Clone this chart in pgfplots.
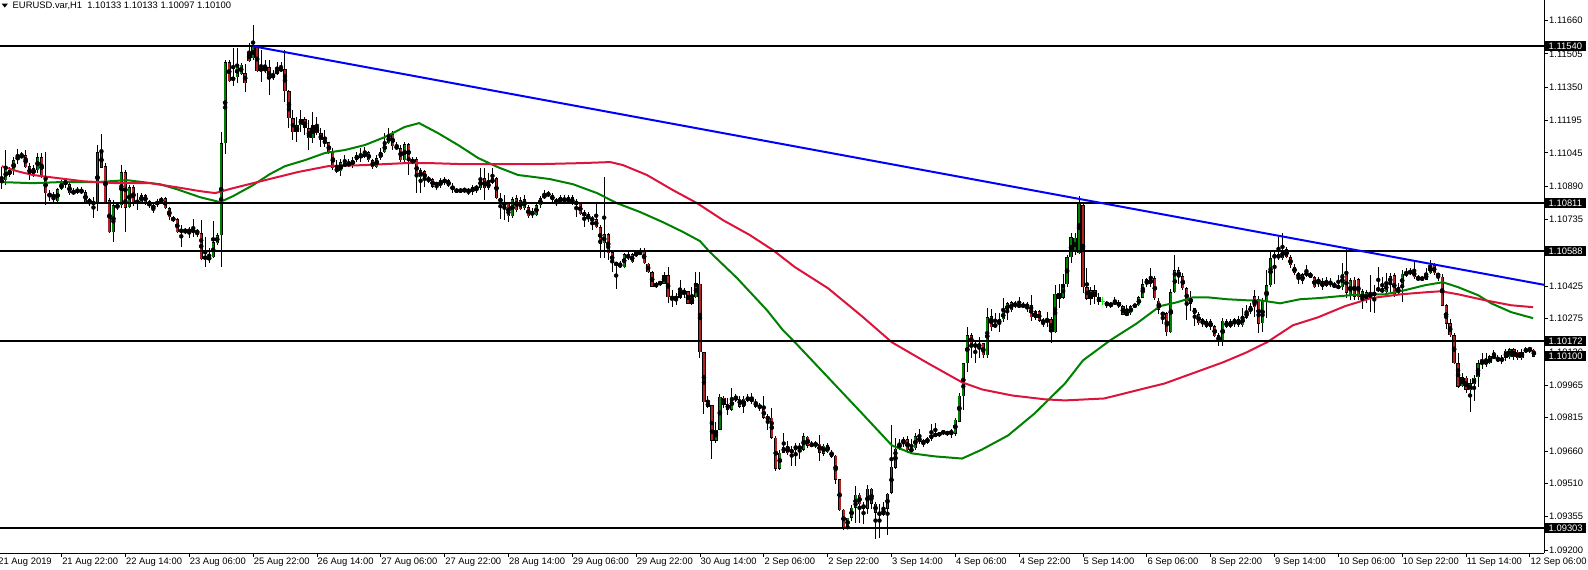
\documentclass[border=0pt]{standalone}
\usepackage{fontspec}
\setmainfont{Liberation Sans}
\usepackage{pgfplots}
\usepackage{pgfplotstable}
\pgfplotsset{compat=1.18}

\definecolor{bullgreen}{RGB}{0,128,0}
\definecolor{bearred}{RGB}{178,34,34}
\definecolor{magreen}{RGB}{0,128,0}
\definecolor{mared}{RGB}{220,20,60}
\definecolor{trend}{RGB}{0,0,255}
\newcommand{\lbl}{\fontsize{9.4}{11}\selectfont}

% EURUSD H1 bars, index 0 = 21 Aug 07:00
\pgfplotstableread{
i O H L C
0 1.10904 1.10978 1.10876 1.10923
1 1.10918 1.11058 1.10895 1.10974
2 1.10969 1.10978 1.10932 1.10942
3 1.10965 1.11025 1.10942 1.11011
4 1.11011 1.11067 1.10997 1.11030
5 1.11035 1.11049 1.11021 1.11025
6 1.11035 1.11058 1.10974 1.10978
7 1.10983 1.10997 1.10918 1.10942
8 1.10974 1.10988 1.10932 1.10946
9 1.10965 1.11044 1.10951 1.11025
10 1.11025 1.11044 1.10928 1.10932
11 1.10932 1.11049 1.10802 1.10858
12 1.10858 1.10872 1.10825 1.10844
13 1.10849 1.10863 1.10806 1.10839
14 1.10820 1.10881 1.10816 1.10876
15 1.10876 1.10918 1.10872 1.10904
16 1.10918 1.10928 1.10885 1.10895
17 1.10899 1.10904 1.10849 1.10858
18 1.10867 1.10881 1.10849 1.10858
19 1.10863 1.10885 1.10853 1.10876
20 1.10876 1.10885 1.10853 1.10858
21 1.10863 1.10872 1.10811 1.10816
22 1.10830 1.10835 1.10797 1.10811
23 1.10816 1.10839 1.10746 1.10811
24 1.10816 1.11085 1.10774 1.11049
25 1.11049 1.11132 1.10974 1.10978
26 1.10983 1.10997 1.10811 1.10816
27 1.10825 1.10835 1.10672 1.10677
28 1.10677 1.10825 1.10630 1.10802
29 1.10802 1.10816 1.10779 1.10792
30 1.10802 1.10988 1.10792 1.10956
31 1.10956 1.10965 1.10677 1.10792
32 1.10792 1.10895 1.10788 1.10885
33 1.10885 1.10895 1.10797 1.10816
34 1.10825 1.10858 1.10779 1.10811
35 1.10816 1.10858 1.10811 1.10849
36 1.10849 1.10858 1.10806 1.10816
37 1.10820 1.10825 1.10788 1.10797
38 1.10802 1.10806 1.10765 1.10788
39 1.10806 1.10830 1.10792 1.10820
40 1.10816 1.10839 1.10811 1.10835
41 1.10835 1.10839 1.10783 1.10788
42 1.10788 1.10792 1.10732 1.10746
43 1.10746 1.10751 1.10723 1.10732
44 1.10737 1.10742 1.10672 1.10677
45 1.10677 1.10709 1.10607 1.10691
46 1.10691 1.10695 1.10667 1.10677
47 1.10677 1.10700 1.10653 1.10691
48 1.10691 1.10737 1.10653 1.10677
49 1.10686 1.10691 1.10653 1.10672
50 1.10672 1.10732 1.10546 1.10551
51 1.10565 1.10653 1.10514 1.10551
52 1.10546 1.10602 1.10532 1.10565
53 1.10560 1.10728 1.10558 1.10630
54 1.10625 1.10672 1.10616 1.10663
55 1.10663 1.11142 1.10518 1.11090
56 1.11090 1.11476 1.11039 1.11467
57 1.11467 1.11476 1.11374 1.11378
58 1.11383 1.11532 1.11355 1.11397
59 1.11397 1.11532 1.11369 1.11453
60 1.11411 1.11462 1.11407 1.11453
61 1.11416 1.11458 1.11328 1.11369
62 1.11509 1.11555 1.11467 1.11472
63 1.11486 1.11639 1.11476 1.11537
64 1.11537 1.11546 1.11421 1.11425
65 1.11439 1.11523 1.11374 1.11425
66 1.11425 1.11476 1.11416 1.11444
67 1.11444 1.11476 1.11314 1.11388
68 1.11392 1.11430 1.11383 1.11411
69 1.11411 1.11467 1.11407 1.11430
70 1.11434 1.11467 1.11421 1.11430
71 1.11434 1.11523 1.11281 1.11332
72 1.11332 1.11337 1.11160 1.11207
73 1.11207 1.11244 1.11104 1.11142
74 1.11142 1.11211 1.11095 1.11174
75 1.11174 1.11244 1.11142 1.11202
76 1.11202 1.11211 1.11128 1.11160
77 1.11160 1.11197 1.11058 1.11114
78 1.11114 1.11235 1.11090 1.11174
79 1.11165 1.11211 1.11128 1.11137
80 1.11137 1.11160 1.11072 1.11104
81 1.11104 1.11151 1.11072 1.11090
82 1.11095 1.11097 1.11039 1.11044
83 1.11049 1.11067 1.10965 1.10974
84 1.10974 1.11011 1.10951 1.10960
85 1.10960 1.11016 1.10937 1.11002
86 1.10988 1.11035 1.10978 1.10992
87 1.10988 1.11016 1.10978 1.10997
88 1.10992 1.11025 1.10978 1.11011
89 1.11011 1.11049 1.11002 1.11035
90 1.11025 1.11067 1.11002 1.11035
91 1.11025 1.11072 1.11023 1.11049
92 1.11049 1.11053 1.11002 1.11011
93 1.11011 1.11016 1.10969 1.10978
94 1.10978 1.11035 1.10974 1.11021
95 1.11021 1.11067 1.11011 1.11049
96 1.11049 1.11137 1.11044 1.11090
97 1.11090 1.11160 1.11085 1.11128
98 1.11132 1.11146 1.11058 1.11076
99 1.11076 1.11095 1.11058 1.11067
100 1.11067 1.11081 1.11002 1.11011
101 1.11011 1.11095 1.11002 1.11085
102 1.11085 1.11090 1.10942 1.11011
103 1.11016 1.11025 1.10992 1.10997
104 1.11016 1.11025 1.10858 1.10932
105 1.10932 1.10974 1.10858 1.10965
106 1.10960 1.10965 1.10885 1.10923
107 1.10928 1.10937 1.10904 1.10918
108 1.10923 1.10928 1.10881 1.10890
109 1.10904 1.10909 1.10872 1.10895
110 1.10890 1.10928 1.10885 1.10918
111 1.10913 1.10932 1.10895 1.10918
112 1.10918 1.10923 1.10885 1.10890
113 1.10890 1.10904 1.10858 1.10876
114 1.10876 1.10881 1.10858 1.10863
115 1.10863 1.10885 1.10858 1.10876
116 1.10872 1.10885 1.10858 1.10876
117 1.10876 1.10881 1.10849 1.10863
118 1.10863 1.10895 1.10849 1.10885
119 1.10881 1.10895 1.10858 1.10885
120 1.10881 1.10974 1.10872 1.10928
121 1.10928 1.10974 1.10825 1.10881
122 1.10881 1.10951 1.10872 1.10909
123 1.10904 1.10974 1.10902 1.10928
124 1.10928 1.10932 1.10830 1.10835
125 1.10835 1.10858 1.10737 1.10816
126 1.10811 1.10849 1.10732 1.10806
127 1.10811 1.10816 1.10723 1.10751
128 1.10751 1.10839 1.10746 1.10830
129 1.10835 1.10849 1.10770 1.10779
130 1.10825 1.10839 1.10779 1.10783
131 1.10788 1.10849 1.10779 1.10830
132 1.10792 1.10802 1.10742 1.10751
133 1.10756 1.10788 1.10742 1.10774
134 1.10756 1.10811 1.10751 1.10802
135 1.10802 1.10844 1.10792 1.10835
136 1.10853 1.10872 1.10830 1.10835
137 1.10849 1.10867 1.10839 1.10858
138 1.10849 1.10858 1.10816 1.10825
139 1.10825 1.10835 1.10797 1.10816
140 1.10816 1.10849 1.10811 1.10839
141 1.10820 1.10849 1.10811 1.10835
142 1.10816 1.10849 1.10811 1.10839
143 1.10839 1.10849 1.10802 1.10806
144 1.10816 1.10830 1.10746 1.10811
145 1.10811 1.10816 1.10756 1.10760
146 1.10765 1.10779 1.10700 1.10756
147 1.10760 1.10770 1.10723 1.10737
148 1.10742 1.10751 1.10686 1.10732
149 1.10737 1.10811 1.10695 1.10700
150 1.10700 1.10709 1.10556 1.10625
151 1.10625 1.10932 1.10556 1.10667
152 1.10667 1.10672 1.10546 1.10579
153 1.10584 1.10593 1.10491 1.10532
154 1.10532 1.10537 1.10416 1.10528
155 1.10532 1.10542 1.10509 1.10514
156 1.10514 1.10579 1.10509 1.10574
157 1.10574 1.10584 1.10546 1.10556
158 1.10537 1.10579 1.10532 1.10574
159 1.10579 1.10588 1.10560 1.10574
160 1.10579 1.10602 1.10570 1.10584
161 1.10593 1.10602 1.10530 1.10532
162 1.10532 1.10537 1.10486 1.10491
163 1.10491 1.10495 1.10421 1.10425
164 1.10439 1.10444 1.10416 1.10425
165 1.10439 1.10453 1.10430 1.10444
166 1.10439 1.10491 1.10437 1.10477
167 1.10477 1.10514 1.10346 1.10374
168 1.10374 1.10407 1.10327 1.10369
169 1.10370 1.10393 1.10337 1.10374
170 1.10374 1.10453 1.10369 1.10402
171 1.10397 1.10416 1.10374 1.10402
172 1.10402 1.10407 1.10344 1.10346
173 1.10374 1.10421 1.10337 1.10346
174 1.10374 1.10491 1.10372 1.10439
175 1.10439 1.10491 1.10095 1.10119
176 1.10119 1.10123 1.09835 1.09886
177 1.09886 1.09918 1.09862 1.09867
178 1.09872 1.09876 1.09625 1.09709
179 1.09709 1.09793 1.09700 1.09760
180 1.09760 1.09923 1.09756 1.09914
181 1.09909 1.09918 1.09862 1.09876
182 1.09881 1.09904 1.09826 1.09853
183 1.09853 1.09956 1.09849 1.09909
184 1.09909 1.09928 1.09890 1.09900
185 1.09904 1.09918 1.09862 1.09867
186 1.09867 1.09918 1.09839 1.09904
187 1.09900 1.09923 1.09886 1.09904
188 1.09904 1.09928 1.09881 1.09890
189 1.09890 1.09904 1.09862 1.09867
190 1.09872 1.09886 1.09849 1.09862
191 1.09858 1.09918 1.09807 1.09816
192 1.09816 1.09835 1.09760 1.09812
193 1.09816 1.09862 1.09718 1.09723
194 1.09723 1.09732 1.09570 1.09579
195 1.09579 1.09663 1.09574 1.09653
196 1.09653 1.09742 1.09649 1.09681
197 1.09681 1.09709 1.09640 1.09649
198 1.09653 1.09686 1.09593 1.09667
199 1.09667 1.09700 1.09593 1.09686
200 1.09686 1.09700 1.09625 1.09667
201 1.09667 1.09746 1.09658 1.09728
202 1.09728 1.09732 1.09677 1.09686
203 1.09686 1.09705 1.09677 1.09690
204 1.09695 1.09709 1.09677 1.09686
205 1.09695 1.09737 1.09616 1.09653
206 1.09649 1.09695 1.09640 1.09686
207 1.09686 1.09700 1.09649 1.09653
208 1.09658 1.09667 1.09630 1.09635
209 1.09640 1.09644 1.09509 1.09528
210 1.09528 1.09532 1.09382 1.09384
211 1.09388 1.09393 1.09295 1.09305
212 1.09305 1.09314 1.09300 1.09351
213 1.09351 1.09407 1.09337 1.09398
214 1.09398 1.09500 1.09328 1.09458
215 1.09458 1.09467 1.09328 1.09412
216 1.09412 1.09421 1.09323 1.09393
217 1.09393 1.09505 1.09370 1.09486
218 1.09486 1.09491 1.09393 1.09416
219 1.09416 1.09421 1.09253 1.09374
220 1.09374 1.09416 1.09258 1.09365
221 1.09365 1.09426 1.09360 1.09393
222 1.09393 1.09467 1.09272 1.09463
223 1.09467 1.09784 1.09463 1.09588
224 1.09584 1.09723 1.09579 1.09672
225 1.09672 1.09718 1.09663 1.09695
226 1.09695 1.09723 1.09677 1.09718
227 1.09714 1.09732 1.09653 1.09663
228 1.09672 1.09718 1.09649 1.09658
229 1.09672 1.09742 1.09663 1.09728
230 1.09728 1.09765 1.09695 1.09700
231 1.09705 1.09718 1.09677 1.09700
232 1.09700 1.09728 1.09695 1.09718
233 1.09718 1.09788 1.09709 1.09737
234 1.09735 1.09788 1.09728 1.09737
235 1.09732 1.09751 1.09728 1.09746
236 1.09746 1.09760 1.09737 1.09751
237 1.09746 1.09756 1.09732 1.09742
238 1.09746 1.09765 1.09723 1.09751
239 1.09742 1.09812 1.09732 1.09807
240 1.09798 1.09928 1.09793 1.09918
241 1.09914 1.10070 1.09849 1.10067
242 1.10067 1.10235 1.10026 1.10198
243 1.10198 1.10207 1.10091 1.10160
244 1.10160 1.10174 1.10067 1.10142
245 1.10160 1.10188 1.10091 1.10142
246 1.10160 1.10165 1.10091 1.10105
247 1.10105 1.10323 1.10095 1.10281
248 1.10286 1.10323 1.10221 1.10235
249 1.10235 1.10300 1.10230 1.10253
250 1.10253 1.10300 1.10212 1.10272
251 1.10272 1.10374 1.10258 1.10309
252 1.10309 1.10351 1.10267 1.10346
253 1.10314 1.10356 1.10305 1.10351
254 1.10342 1.10356 1.10323 1.10337
255 1.10328 1.10374 1.10323 1.10342
256 1.10333 1.10351 1.10323 1.10337
257 1.10337 1.10351 1.10305 1.10333
258 1.10337 1.10384 1.10267 1.10281
259 1.10309 1.10314 1.10267 1.10281
260 1.10309 1.10314 1.10258 1.10267
261 1.10267 1.10277 1.10235 1.10258
262 1.10258 1.10305 1.10235 1.10272
263 1.10272 1.10281 1.10160 1.10212
264 1.10212 1.10430 1.10207 1.10393
265 1.10393 1.10439 1.10327 1.10369
266 1.10374 1.10486 1.10369 1.10435
267 1.10435 1.10570 1.10421 1.10560
268 1.10560 1.10672 1.10532 1.10653
269 1.10584 1.10672 1.10570 1.10653
270 1.10579 1.10844 1.10574 1.10816
271 1.10802 1.10811 1.10397 1.10421
272 1.10421 1.10509 1.10360 1.10369
273 1.10369 1.10421 1.10337 1.10407
274 1.10407 1.10430 1.10346 1.10374
275 1.10374 1.10393 1.10337 1.10351
276 1.10356 1.10370 1.10333 1.10356
277 1.10351 1.10360 1.10327 1.10337
278 1.10337 1.10351 1.10327 1.10342
279 1.10351 1.10374 1.10337 1.10346
280 1.10351 1.10360 1.10323 1.10333
281 1.10333 1.10337 1.10291 1.10295
282 1.10295 1.10337 1.10291 1.10300
283 1.10300 1.10337 1.10295 1.10333
284 1.10328 1.10346 1.10326 1.10342
285 1.10337 1.10379 1.10333 1.10374
286 1.10374 1.10458 1.10369 1.10435
287 1.10458 1.10463 1.10421 1.10435
288 1.10435 1.10509 1.10421 1.10463
289 1.10463 1.10472 1.10360 1.10369
290 1.10360 1.10369 1.10295 1.10318
291 1.10300 1.10305 1.10253 1.10295
292 1.10300 1.10305 1.10193 1.10212
293 1.10212 1.10411 1.10207 1.10397
294 1.10397 1.10570 1.10393 1.10500
295 1.10500 1.10514 1.10439 1.10467
296 1.10472 1.10486 1.10407 1.10416
297 1.10416 1.10421 1.10267 1.10346
298 1.10374 1.10407 1.10314 1.10346
299 1.10323 1.10327 1.10244 1.10295
300 1.10295 1.10305 1.10244 1.10253
301 1.10272 1.10281 1.10235 1.10249
302 1.10235 1.10272 1.10230 1.10263
303 1.10263 1.10272 1.10221 1.10235
304 1.10240 1.10244 1.10188 1.10193
305 1.10198 1.10207 1.10151 1.10170
306 1.10170 1.10277 1.10151 1.10267
307 1.10235 1.10272 1.10233 1.10263
308 1.10263 1.10272 1.10230 1.10235
309 1.10253 1.10281 1.10235 1.10272
310 1.10272 1.10286 1.10235 1.10244
311 1.10244 1.10323 1.10235 1.10286
312 1.10281 1.10337 1.10272 1.10309
313 1.10305 1.10346 1.10295 1.10333
314 1.10379 1.10407 1.10281 1.10328
315 1.10369 1.10379 1.10207 1.10253
316 1.10253 1.10374 1.10212 1.10360
317 1.10360 1.10500 1.10277 1.10430
318 1.10430 1.10588 1.10421 1.10556
319 1.10556 1.10593 1.10439 1.10574
320 1.10574 1.10653 1.10546 1.10556
321 1.10556 1.10672 1.10546 1.10593
322 1.10598 1.10607 1.10556 1.10560
323 1.10560 1.10570 1.10509 1.10523
324 1.10518 1.10528 1.10477 1.10486
325 1.10486 1.10491 1.10439 1.10467
326 1.10449 1.10486 1.10439 1.10481
327 1.10481 1.10523 1.10467 1.10486
328 1.10486 1.10491 1.10463 1.10467
329 1.10467 1.10472 1.10416 1.10421
330 1.10449 1.10467 1.10421 1.10453
331 1.10421 1.10463 1.10407 1.10449
332 1.10430 1.10467 1.10425 1.10453
333 1.10430 1.10463 1.10421 1.10449
334 1.10435 1.10444 1.10419 1.10421
335 1.10425 1.10477 1.10416 1.10421
336 1.10421 1.10532 1.10407 1.10486
337 1.10486 1.10602 1.10374 1.10397
338 1.10379 1.10463 1.10360 1.10453
339 1.10458 1.10467 1.10360 1.10379
340 1.10458 1.10463 1.10360 1.10374
341 1.10360 1.10416 1.10323 1.10402
342 1.10360 1.10407 1.10346 1.10397
343 1.10369 1.10477 1.10305 1.10397
344 1.10397 1.10430 1.10300 1.10384
345 1.10407 1.10514 1.10397 1.10416
346 1.10416 1.10467 1.10393 1.10397
347 1.10397 1.10486 1.10393 1.10444
348 1.10439 1.10486 1.10393 1.10472
349 1.10477 1.10486 1.10374 1.10379
350 1.10393 1.10439 1.10384 1.10421
351 1.10421 1.10500 1.10351 1.10486
352 1.10486 1.10509 1.10467 1.10481
353 1.10486 1.10509 1.10477 1.10495
354 1.10500 1.10537 1.10458 1.10467
355 1.10467 1.10477 1.10453 1.10458
356 1.10467 1.10472 1.10449 1.10458
357 1.10458 1.10509 1.10453 1.10486
358 1.10486 1.10551 1.10484 1.10523
359 1.10523 1.10532 1.10477 1.10486
360 1.10486 1.10491 1.10453 1.10472
361 1.10472 1.10481 1.10333 1.10337
362 1.10337 1.10342 1.10226 1.10253
363 1.10253 1.10272 1.10188 1.10198
364 1.10198 1.10207 1.10063 1.10067
365 1.10067 1.10114 1.09956 1.09960
366 1.09960 1.10021 1.09956 1.10002
367 1.10002 1.10007 1.09928 1.09946
368 1.09942 1.09993 1.09844 1.09974
369 1.09970 1.10012 1.09895 1.10002
370 1.10002 1.10086 1.09956 1.10067
371 1.10067 1.10114 1.10044 1.10072
372 1.10067 1.10114 1.10049 1.10077
373 1.10067 1.10105 1.10063 1.10100
374 1.10095 1.10128 1.10091 1.10100
375 1.10095 1.10105 1.10072 1.10077
376 1.10095 1.10105 1.10067 1.10077
377 1.10095 1.10137 1.10077 1.10128
378 1.10095 1.10142 1.10091 1.10132
379 1.10132 1.10137 1.10081 1.10095
380 1.10123 1.10132 1.10081 1.10091
381 1.10091 1.10137 1.10086 1.10123
382 1.10119 1.10146 1.10114 1.10137
383 1.10132 1.10146 1.10114 1.10137
384 1.10133 1.10133 1.10097 1.10100
}\candles

% moving averages
\pgfplotstableread{
i v
0 1.10909
7.8 1.10904
14.6 1.10909
23.9 1.10909
31.4 1.10918
35.4 1.10909
39.7 1.10899
43.9 1.10876
49.7 1.10839
54.7 1.10816
58 1.10844
63 1.10895
67.2 1.10946
71 1.10983
76 1.11011
81 1.11044
86 1.11058
91 1.11081
96 1.11118
101 1.11165
104.6 1.11183
109.3 1.11137
114.4 1.11081
119.4 1.11021
124.4 1.10978
129.4 1.10942
133.7 1.10932
137.4 1.10923
143.2 1.10899
149.2 1.10858
154.2 1.10811
160 1.10770
165.7 1.10723
170.8 1.10677
175 1.10635
177.5 1.10584
184.3 1.10463
191.8 1.10314
195.8 1.10221
198.8 1.10165
207.1 1.10002
215.6 1.09835
223.1 1.09686
228.1 1.09649
233.9 1.09635
240.7 1.09625
245.7 1.09667
252.2 1.09732
258.9 1.09835
266.5 1.09974
271 1.10081
277.8 1.10174
284.5 1.10253
290.3 1.10333
294.6 1.10351
298.6 1.10374
302.1 1.10374
307.1 1.10365
312.1 1.10360
315.4 1.10360
320.4 1.10346
325.4 1.10365
329.9 1.10370
338.2 1.10384
346.7 1.10388
351.7 1.10407
356.7 1.10430
361.2 1.10444
365 1.10421
370 1.10384
373.3 1.10346
378.3 1.10305
383.8 1.10277
}\maGreen

\pgfplotstableread{
i v
0 1.10983
3.8 1.10960
7.8 1.10942
12.1 1.10932
20.4 1.10913
28.9 1.10904
37.2 1.10904
43.9 1.10885
49.7 1.10867
53.5 1.10858
58 1.10881
63 1.10904
66 1.10918
74.3 1.10956
81.8 1.10983
91 1.10988
101 1.10997
107.8 1.10997
116.1 1.10992
133.7 1.10992
144.9 1.10997
152.5 1.11002
155.7 1.10988
161.7 1.10942
168.2 1.10872
174.3 1.10811
180.8 1.10732
187.5 1.10663
193.3 1.10593
198.8 1.10514
207.1 1.10416
215.6 1.10286
223.1 1.10165
232.2 1.10067
240.7 1.09979
245.7 1.09946
253.2 1.09918
261.5 1.09900
266.5 1.09895
276.3 1.09904
291.5 1.09974
306.1 1.10072
312.1 1.10119
317.1 1.10165
323.6 1.10244
329.9 1.10281
336.7 1.10333
343.2 1.10370
350.7 1.10388
356.7 1.10397
360.7 1.10402
365 1.10388
371.8 1.10360
378.3 1.10337
383.8 1.10328
}\maRed

\begin{document}
\begin{tikzpicture}[x=1pt,y=1pt]
\useasboundingbox (0,0) rectangle (1588,-570);
\begin{axis}[
    at={(0,0)}, anchor=north west,
    width=1544pt, height=553pt, scale only axis,
    xmin=-0.426, xmax=386.54,
    ymin=1.091863, ymax=1.117548,
    axis x line*=bottom, axis y line*=right,
    axis line style={-, black, line width=1pt},
    tick align=outside, major tick length=4pt,
    tick style={black, line width=0.8pt},
    xtick={15,31,...,383},
    xticklabels={21 Aug 22:00,22 Aug 14:00,23 Aug 06:00,25 Aug 22:00,26 Aug 14:00,27 Aug 06:00,27 Aug 22:00,28 Aug 14:00,29 Aug 06:00,29 Aug 22:00,30 Aug 14:00,2 Sep 06:00,2 Sep 22:00,3 Sep 14:00,4 Sep 06:00,4 Sep 22:00,5 Sep 14:00,6 Sep 06:00,8 Sep 22:00,9 Sep 14:00,10 Sep 06:00,10 Sep 22:00,11 Sep 14:00,12 Sep 06:00},
    ytick={1.11660,1.11505,1.11350,1.11195,1.11045,1.10890,1.10735,1.10580,1.10425,1.10275,1.10120,1.09965,1.09815,1.09660,1.09510,1.09355,1.09200},
    yticklabels={1.11660,1.11505,1.11350,1.11195,1.11045,1.10890,1.10735,1.10580,1.10425,1.10275,1.10120,1.09965,1.09815,1.09660,1.09510,1.09355,1.09200},
    tick label style={font=\lbl, black},
    xticklabel style={anchor=north west, inner sep=0pt, xshift=0.5pt, yshift=-1pt},
    yticklabel style={anchor=west, inner sep=0pt, xshift=1pt},
    unbounded coords=discard,
]
% wicks
\addplot[only marks, mark=none, forget plot,
    restrict expr to domain={abs(\thisrow{C}-\thisrow{O})}{0.000001:1},
    error bars/.cd, y dir=both, y explicit, error mark=none,
    error bar style={black, line width=1pt}]
    table[x=i, y expr={(\thisrow{H}+\thisrow{L})/2}, y error expr={(\thisrow{H}-\thisrow{L})/2}] {\candles};
% body outlines
\addplot[only marks, mark=none, forget plot,
    restrict expr to domain={abs(\thisrow{C}-\thisrow{O})}{0.000001:1},
    error bars/.cd, y dir=both, y explicit, error mark=none,
    error bar style={black, line width=3.2pt}]
    table[x=i, y expr={(\thisrow{O}+\thisrow{C})/2}, y error expr={max(abs(\thisrow{C}-\thisrow{O})/2,0.000025)}] {\candles};
% bull bodies
\addplot[only marks, mark=none, forget plot,
    restrict expr to domain={\thisrow{C}-\thisrow{O}}{0.000001:1},
    error bars/.cd, y dir=both, y explicit, error mark=none,
    error bar style={bullgreen, line width=1.9pt}]
    table[x=i, y expr={(\thisrow{O}+\thisrow{C})/2}, y error expr={max(abs(\thisrow{C}-\thisrow{O})/2-0.000021,0)}] {\candles};
% bear bodies
\addplot[only marks, mark=none, forget plot,
    restrict expr to domain={\thisrow{C}-\thisrow{O}}{-1:-0.000001},
    error bars/.cd, y dir=both, y explicit, error mark=none,
    error bar style={bearred, line width=1.9pt}]
    table[x=i, y expr={(\thisrow{O}+\thisrow{C})/2}, y error expr={max(abs(\thisrow{C}-\thisrow{O})/2-0.000021,0)}] {\candles};
% doji bars
\addplot[only marks, mark=-, mark size=1.7pt, green, line width=1pt, forget plot,
    restrict expr to domain={abs(\thisrow{C}-\thisrow{O})}{0:0.0000005},
    error bars/.cd, y dir=both, y explicit, error mark=none,
    error bar style={green, line width=1pt}]
    table[x=i, y=C, y error expr={(\thisrow{H}-\thisrow{L})/2}] {\candles};

% moving averages
\addplot[magreen, line width=2pt, mark=none] table[x=i, y=v] {\maGreen};
\addplot[mared, line width=2pt, mark=none] table[x=i, y=v] {\maRed};

% horizontal levels
\addplot[black, line width=2pt, mark=none] coordinates {(-0.426,1.11540) (386.54,1.11540)};
\addplot[black, line width=2pt, mark=none] coordinates {(-0.426,1.10811) (386.54,1.10811)};
\addplot[black, line width=2pt, mark=none] coordinates {(-0.426,1.10588) (386.54,1.10588)};
\addplot[black, line width=2pt, mark=none] coordinates {(-0.426,1.10172) (386.54,1.10172)};
\addplot[black, line width=2pt, mark=none] coordinates {(-0.426,1.09303) (386.54,1.09303)};

% trend line
\addplot[trend, line width=2pt, mark=none] coordinates {(63,1.11540) (386.54,1.10432)};

\coordinate (p1) at (axis cs:386.54,1.11540);
\coordinate (p2) at (axis cs:386.54,1.10811);
\coordinate (p3) at (axis cs:386.54,1.10588);
\coordinate (p4) at (axis cs:386.54,1.10172);
\coordinate (p5) at (axis cs:386.54,1.10100);
\coordinate (p6) at (axis cs:386.54,1.09303);
\coordinate (d0) at (axis cs:-1,1.091863);
\end{axis}

\foreach \c/\t in {p1/1.11540, p2/1.10811, p3/1.10588, p4/1.10172, p5/1.10100, p6/1.09303}
    \node[anchor=west, fill=black, text=white, inner xsep=3.5pt, inner ysep=1.6pt, font=\lbl] at ([xshift=1pt]\c) {\t};

\node[anchor=north west, inner sep=0pt, xshift=0.5pt, yshift=-5pt, font=\lbl] at (d0) {21 Aug 2019};

\fill[black] (1.5,-3.5) -- (8,-3.5) -- (4.75,-7.5) -- cycle;
\node[anchor=base west, inner sep=0pt, font=\lbl] at (12.5,-9) {EURUSD.var,H1\ \ 1.10133 1.10133 1.10097 1.10100};
\end{tikzpicture}
\end{document}
